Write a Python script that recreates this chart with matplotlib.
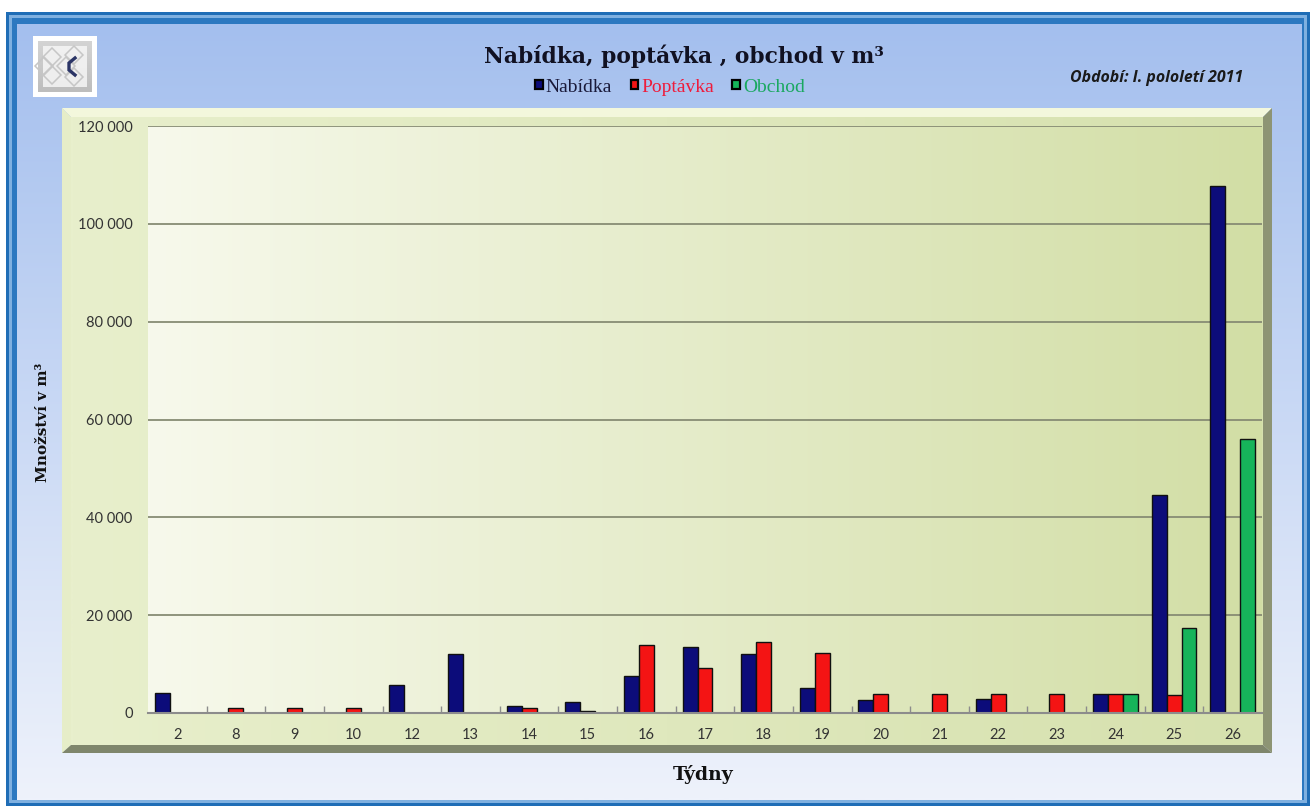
import numpy as np
import matplotlib
matplotlib.use('Agg')
import matplotlib.pyplot as plt
from matplotlib.patches import Rectangle, Polygon
from matplotlib.ticker import FuncFormatter, FixedLocator
from matplotlib.colors import to_rgb

# ---------------- data ----------------
weeks = ['2', '8', '9', '10', '12', '13', '14', '15', '16', '17',
         '18', '19', '20', '21', '22', '23', '24', '25', '26']
nabidka = [4100, 0, 0, 0, 5800, 12000, 1500, 2150, 7500, 13500,
           12000, 5100, 2700, 0, 2900, 0, 3850, 44500, 107700]
poptavka = [0, 1000, 1000, 1000, 0, 0, 1000, 450, 14000, 9300,
            14500, 12250, 3850, 3850, 3850, 3850, 3850, 3750, 0]
obchod = [0, 0, 0, 0, 0, 0, 0, 0, 0, 0,
          0, 0, 0, 0, 0, 0, 3850, 17400, 56000]
series_names = ['Nabídka', 'Poptávka', 'Obchod']
y_ticks = [0, 20000, 40000, 60000, 80000, 100000, 120000]

title = 'Nabídka, poptávka , obchod v m³'
period = 'Období: I. pololetí 2011'
ylabel = 'Množství v m³'
xlabel = 'Týdny'

# ---------------- style ----------------
bar_colors = ['#0c0c7a', '#f41414', '#16b45a']
label_colors = ['#1a1a3a', '#ee1c3c', '#1aa860']
serif = ['Liberation Serif', 'DejaVu Serif']
wserif = ['DejaVu Serif']
sans = ['Lato', 'DejaVu Sans']

W, H = 1312, 810
fig = plt.figure(figsize=(W / 100, H / 100), dpi=100)
fig.patch.set_facecolor('white')

bg = fig.add_axes([0, 0, 1, 1], zorder=-10)
bg.axis('off')


def grad_img(c0, c1, n=256, vertical=True):
    a = np.array(to_rgb(c0))
    b = np.array(to_rgb(c1))
    t = np.linspace(0, 1, n)[:, None]
    arr = a * (1 - t) + b * t
    if vertical:
        return arr[:, None, :]
    return arr[None, :, :]


def vgrad(x0, y0, x1, y1, ctop, cbot, z=0):
    bg.imshow(grad_img(ctop, cbot), extent=[x0, x1, y1, y0], aspect='auto',
              interpolation='bilinear', zorder=z)


def hgrad(x0, y0, x1, y1, cl, cr, z=0):
    bg.imshow(grad_img(cl, cr, vertical=False), extent=[x0, x1, y1, y0],
              aspect='auto', interpolation='bilinear', zorder=z)


# outer blue frame
bg.add_patch(Rectangle((6, 12), 1304, 794, facecolor='#1f6db6', edgecolor='none', zorder=1))
bg.add_patch(Rectangle((9, 15), 1298, 788, facecolor='#7fb0e0', edgecolor='none', zorder=1.1))
bg.add_patch(Rectangle((12, 18), 1292, 782, facecolor='#2c78c0', edgecolor='none', zorder=1.2))
vgrad(17, 24, 1302, 800, '#a4bfee', '#eef2fb', z=1.5)

# logo
bg.add_patch(Rectangle((33, 36), 64, 61, facecolor='white', edgecolor='none', zorder=2))
vgrad(38, 41, 92, 92, '#d4d4d4', '#bdbdbd', z=2.1)
bg.add_patch(Rectangle((43, 46), 44, 41, facecolor='#f6f6f6', edgecolor='none', alpha=0.85, zorder=2.2))
for cx, cy in [(52, 57), (52, 75), (66, 66), (44, 66), (74, 55), (74, 77)]:
    bg.add_patch(Polygon([(cx, cy - 9), (cx + 9, cy), (cx, cy + 9), (cx - 9, cy)],
                         closed=True, fill=False, edgecolor='#c6c6c6', lw=1.1, zorder=2.3))
bg.plot([75, 69, 69, 75], [58, 63, 70, 75], color='#2b3566', lw=2.4, zorder=2.5,
        solid_joinstyle='miter')

# chart panel (bevelled box)
px0, py0, px1, py1 = 62, 108, 1272, 753
bg.add_patch(Polygon([(px0, py0), (px1, py0), (px1 - 9, py0 + 9), (px0 + 9, py0 + 9)],
                     facecolor='#f3f7dc', edgecolor='none', zorder=3))
bg.add_patch(Polygon([(px0, py0), (px0 + 9, py0 + 9), (px0 + 9, py1 - 8), (px0, py1)],
                     facecolor='#e6edc8', edgecolor='none', zorder=3))
bg.add_patch(Polygon([(px1, py0), (px1, py1), (px1 - 9, py1 - 8), (px1 - 9, py0 + 9)],
                     facecolor='#8d9474', edgecolor='none', zorder=3))
bg.add_patch(Polygon([(px0, py1), (px1, py1), (px1 - 9, py1 - 8), (px0 + 9, py1 - 8)],
                     facecolor='#7f866c', edgecolor='none', zorder=3))
hgrad(px0 + 9, py0 + 9, px1 - 9, py1 - 8, '#e8efcc', '#d6e1ae', z=3.1)

bg.set_xlim(0, W)
bg.set_ylim(H, 0)

# ---------------- main axes ----------------
ax = fig.add_axes([148 / W, (H - 713) / H, (1262 - 148) / W, (713 - 126) / H])
ax.patch.set_visible(False)
n = len(weeks)
x = np.arange(n)
ax.imshow(grad_img('#f7f9ec', '#d2dea5', vertical=False),
          extent=[-0.5, n - 0.5, 0, 120000], aspect='auto',
          interpolation='bilinear', zorder=0)

width = 0.255
offsets = [-width, 0, width]
for vals, off, col in zip([nabidka, poptavka, obchod], offsets, bar_colors):
    v = np.array(vals, dtype=float)
    m = v > 0
    ax.bar(x[m] + off, v[m], width=width, color=col, edgecolor='#101010',
           linewidth=1.0, zorder=3)

ax.set_xlim(-0.5, n - 0.5)
ax.set_ylim(0, 120000)
ax.set_axisbelow(True)
ax.yaxis.grid(True, color='#878c74', lw=1.3)
ax.set_yticks(y_ticks)
ax.yaxis.set_major_formatter(FuncFormatter(lambda v, p: f'{int(v):,}'.replace(',', ' ')))
ax.set_xticks(x)
ax.set_xticklabels(weeks)
ax.xaxis.set_minor_locator(FixedLocator(np.arange(0.5, n - 1, 1.0)))
ax.tick_params(axis='x', which='major', length=0, pad=11, labelsize=10.5,
               labelcolor='#333333')
ax.tick_params(axis='x', which='minor', length=5, direction='in', color='#8c8c8c', width=1)
ax.tick_params(axis='y', length=0, pad=11, labelsize=10.5, labelcolor='#333333')
for lab in ax.get_xticklabels() + ax.get_yticklabels():
    lab.set_family(sans)
for s in ['top', 'right', 'left']:
    ax.spines[s].set_visible(False)
ax.spines['bottom'].set_color('#8c8c8c')
ax.spines['bottom'].set_linewidth(1.5)
ax.spines['bottom'].set_zorder(4)

# ---------------- texts ----------------
fig.text(684 / W, 1 - 56 / H, title, ha='center', va='center', fontsize=15.7,
         fontweight='bold', family=wserif, color='#111122')
fig.text(1157 / W, 1 - 78 / H, period, ha='center', va='center', fontsize=11.4,
         style='italic', fontweight='bold', family=['Open Sans', 'DejaVu Sans'],
         color='#1a1a1a')
fig.text(43 / W, 1 - 422 / H, ylabel, ha='center', va='center', rotation=90,
         fontsize=11, fontweight='bold', family=wserif, color='#111111')
fig.text(703 / W, 1 - 775 / H, xlabel, ha='center', va='center', fontsize=13.5,
         fontweight='bold', family=wserif, color='#111111')

handles = [Rectangle((0, 0), 1, 1, facecolor=c, edgecolor='black', lw=1.6) for c in bar_colors]
fig.legend(handles, series_names, loc='center', bbox_to_anchor=(670 / W, 1 - 87 / H),
           ncol=3, frameon=False, handlelength=0.4, handleheight=0.4,
           handletextpad=0.15, columnspacing=0.95,
           prop={'family': serif, 'size': 14}, labelcolor=label_colors)

fig.savefig('out.png', dpi=100)
